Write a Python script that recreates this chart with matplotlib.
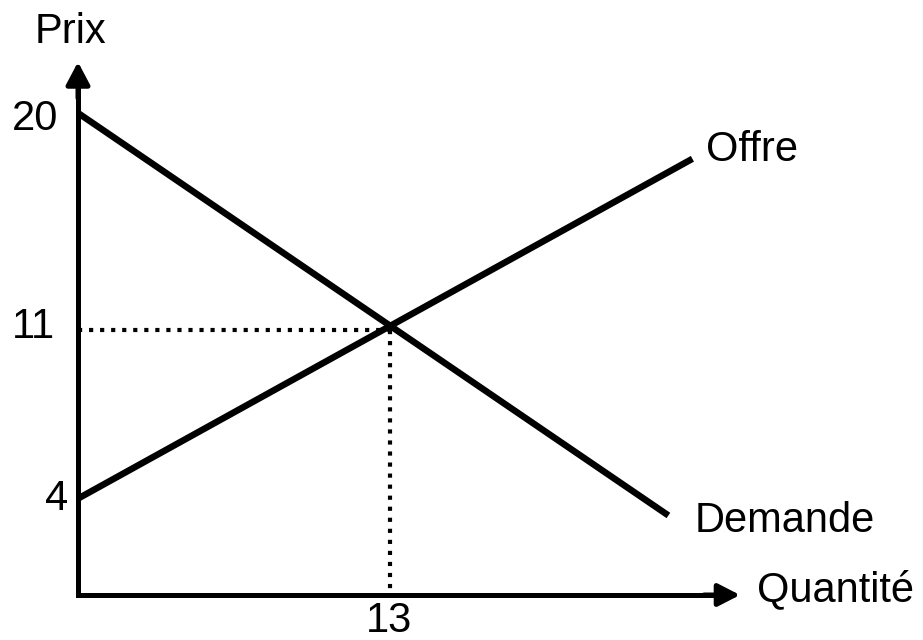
import matplotlib
matplotlib.use("Agg")
import matplotlib.pyplot as plt

# ---- data ----
demand_q = [0, 24.6]
demand_p = [20, 3.3]
supply_q = [0, 25.6]
supply_p = [4, 18.1]
eq_q = 13
eq_p = 11
y_ticks = [20, 11, 4]
x_ticks = [13]
x_label = "Quantité"
y_label = "Prix"
supply_label = "Offre"
demand_label = "Demande"

plt.rcParams['font.family'] = ['Liberation Sans', 'DejaVu Sans']
FS = 30

fig = plt.figure(figsize=(9.23, 6.4), dpi=100)
ax = fig.add_axes([0, 0, 1, 1])
# pixel mapping: x px = 78 + 24.0*Q ; y px(from top) = 595 - 24.1*P
ax.set_xlim(-78 / 24.0, (923 - 78) / 24.0)
ax.set_ylim((595 - 640) / 24.1, 595 / 24.1)
ax.axis('off')

def px2pt(v):
    return v * 72.0 / 100.0

x_tip = (740 - 78) / 24.0
y_tip = (595 - 62) / 24.1
axis_lw = 3.6

# axes as polyline
ax.plot([0, 0, x_tip - 0.6], [y_tip - 0.6, 0, 0], color='black', lw=axis_lw,
        solid_joinstyle='miter', solid_capstyle='butt')
# arrow heads
ax.annotate('', xy=(x_tip, 0), xytext=(x_tip - 1.5, 0),
            arrowprops=dict(arrowstyle='-|>,head_length=0.66,head_width=0.34',
                            mutation_scale=20, color='black', lw=axis_lw,
                            shrinkA=0, shrinkB=0))
ax.annotate('', xy=(0, y_tip), xytext=(0, y_tip - 1.5),
            arrowprops=dict(arrowstyle='-|>,head_length=0.68,head_width=0.36',
                            mutation_scale=20, color='black', lw=axis_lw,
                            shrinkA=0, shrinkB=0))

# dotted guides
ax.plot([0, eq_q], [eq_p, eq_p], color='black', lw=3.0, linestyle=':')
ax.plot([eq_q, eq_q], [eq_p, 0], color='black', lw=3.0, linestyle=':')

# curves
ax.plot(demand_q, demand_p, color='black', lw=4.7, solid_capstyle='butt')
ax.plot(supply_q, supply_p, color='black', lw=4.7, solid_capstyle='butt')

# tick labels
y_offsets = {20: (-20, -17), 11: (-23, -8), 4: (-10, -11.5)}
for v in y_ticks:
    dx, dy = y_offsets[v]
    ax.annotate(str(v), xy=(0, v), xytext=(px2pt(dx), px2pt(dy)),
                textcoords='offset points', ha='right', va='baseline',
                fontsize=FS)
for v in x_ticks:
    ax.annotate(str(v), xy=(v, 0), xytext=(px2pt(-1), px2pt(-37)),
                textcoords='offset points', ha='center', va='baseline',
                fontsize=FS)

# axis labels
ax.annotate(y_label, xy=(0, y_tip), xytext=(px2pt(-7), px2pt(19)),
            textcoords='offset points', ha='center', va='baseline', fontsize=FS)
ax.annotate(x_label, xy=(x_tip, 0), xytext=(px2pt(17), px2pt(-6)),
            textcoords='offset points', ha='left', va='baseline', fontsize=FS)

# curve labels
ax.annotate(supply_label, xy=(supply_q[-1], supply_p[-1]),
            xytext=(px2pt(14), px2pt(-2)), textcoords='offset points',
            ha='left', va='baseline', fontsize=FS)
ax.annotate(demand_label, xy=(demand_q[-1], demand_p[-1]),
            xytext=(px2pt(26), px2pt(-17)), textcoords='offset points',
            ha='left', va='baseline', fontsize=FS)

fig.savefig('out.png', dpi=100)
